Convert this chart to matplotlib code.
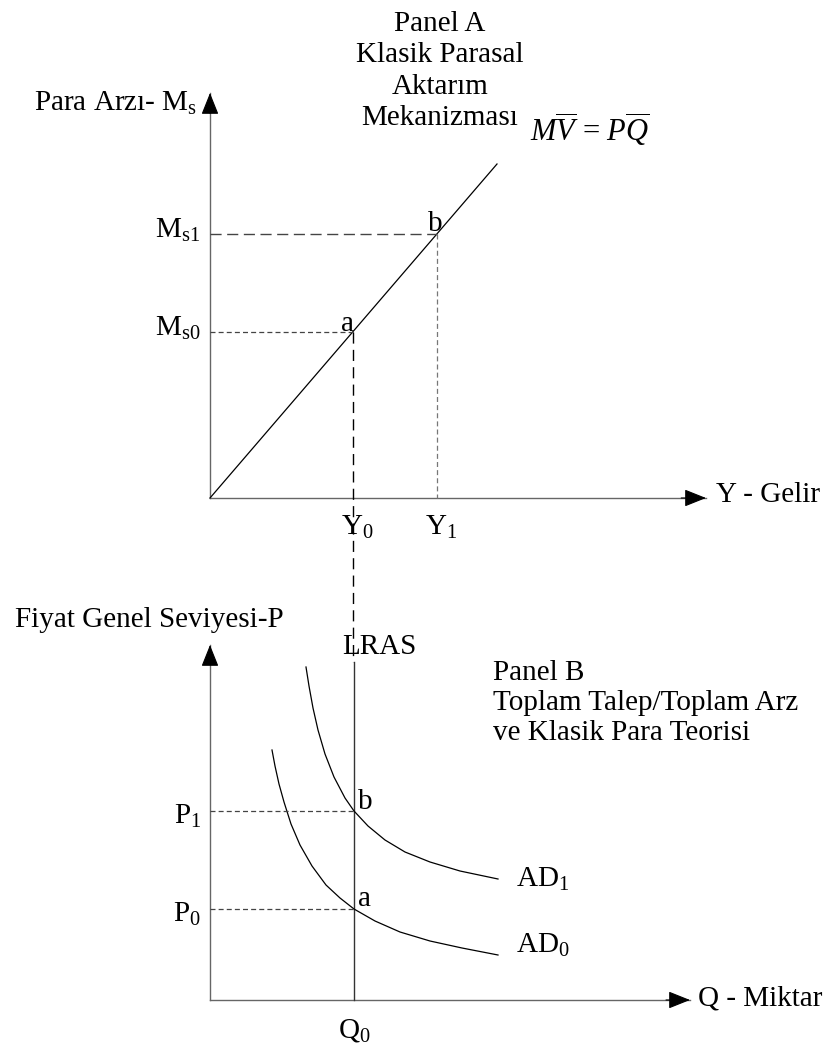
import matplotlib.pyplot as plt

plt.rcParams['font.family'] = ['Liberation Serif', 'DejaVu Serif']
plt.rcParams['mathtext.fontset'] = 'custom'
plt.rcParams['mathtext.rm'] = 'Liberation Serif'
plt.rcParams['mathtext.it'] = 'Liberation Serif:italic'

# === Panel A: para arzı - gelir (resim pikseli cinsinden) ===
origin_a = (210, 498)
y_top_a = 93
x_end_a = 706
income_x = [353, 437]            # Y0, Y1
money_y = [332, 234]             # Ms0, Ms1
income_labels = ["Y$_0$", "Y$_1$"]
money_labels = ["M$_{\\rm s0}$", "M$_{\\rm s1}$"]
mv_x = [210, 497]
mv_y = [498, 164]

# === Panel B: fiyat - miktar ===
origin_b = (210, 1000)
y_top_b = 645
x_end_b = 690
lras_x = 354
lras_top = 662
price_y = [909, 811]             # P0, P1
price_labels = ["P$_0$", "P$_1$"]
ad0_x = [272, 275, 279, 284, 291, 300, 312, 326, 340, 354, 375, 400, 430, 462, 498]
ad0_y = [750, 766, 784, 802, 824, 845, 866, 885, 898, 909, 921, 932, 941, 948, 955]
ad1_x = [306, 309, 313, 318, 325, 334, 345, 354, 368, 385, 405, 430, 460, 498]
ad1_y = [667, 686, 708, 730, 754, 777, 798, 811, 826, 840, 852, 862, 871, 879]

FS = 21
AXC = "#666666"
DASHC = "#444444"

fig = plt.figure(figsize=(8.26, 10.64), dpi=100)
ax = fig.add_axes([0, 0, 1, 1])
ax.set_xlim(0, 826)
ax.set_ylim(1064, 0)
ax.axis("off")


def axis_arrow(x0, y0, x1, y1):
    ax.plot([x0, x1], [y0, y1], color=AXC, lw=1.0)
    ax.annotate("", xy=(x1, y1), xytext=(x1 - (x1 - x0) * 0.05, y1 - (y1 - y0) * 0.05),
                arrowprops=dict(arrowstyle="-|>,head_length=0.75,head_width=0.3",
                                color="black", lw=0.8, mutation_scale=18,
                                shrinkA=0, shrinkB=0))


# ---------------- Panel A ----------------
axis_arrow(origin_a[0], origin_a[1], origin_a[0], y_top_a)
axis_arrow(origin_a[0], origin_a[1], x_end_a, origin_a[1])
ax.plot(mv_x, mv_y, color="black", lw=0.9)

# yatay kesikli çizgiler
ax.plot([origin_a[0], income_x[1]], [money_y[1], money_y[1]], color=DASHC, lw=1.0,
        dashes=(8, 4))
ax.plot([origin_a[0], income_x[0]], [money_y[0], money_y[0]], color=DASHC, lw=0.9,
        dashes=(4, 2.5))
# dikey kesikli çizgiler
ax.plot([income_x[1], income_x[1]], [money_y[1], origin_a[1]], color="#777777", lw=0.9,
        dashes=(4, 2.5))
ax.plot([income_x[0], income_x[0]], [money_y[0], lras_top], color="black", lw=1.0,
        dashes=(8, 4.5))

for yv, lab in zip(money_y, money_labels):
    ax.text(200, yv - 4, lab, fontsize=FS, ha="right", va="center")
for xv, lab in zip(income_x, income_labels):
    ax.text(xv + 4, 527, lab, fontsize=FS, ha="center", va="center")

ax.text(income_x[0] - 6, money_y[0] - 8, "a", fontsize=FS, ha="center", va="center")
ax.text(income_x[1] - 2, money_y[1] - 10, "b", fontsize=FS, ha="center", va="center")

ax.text(197, 103, "Para Arzı- M$_{\\rm s}$", fontsize=FS, ha="right", va="center")
ax.text(716, 495, "Y - Gelir", fontsize=FS, ha="left", va="center")
ax.text(440, 71, "Panel A\nKlasik Parasal\nAktarım\nMekanizması", fontsize=FS,
        ha="center", va="center", linespacing=1.28)
ax.text(530, 130, r"$M\overline{V}$ = $P\overline{Q}$", fontsize=FS + 1, ha="left",
        va="center")

# ---------------- Panel B ----------------
axis_arrow(origin_b[0], origin_b[1], origin_b[0], y_top_b)
axis_arrow(origin_b[0], origin_b[1], x_end_b, origin_b[1])
ax.plot([lras_x, lras_x], [lras_top, origin_b[1]], color="#333333", lw=1.0)

ax.plot(ad0_x, ad0_y, color="black", lw=0.9)
ax.plot(ad1_x, ad1_y, color="black", lw=0.9)

for yv, lab in zip(price_y, price_labels):
    ax.plot([origin_b[0], lras_x], [yv, yv], color=DASHC, lw=0.9, dashes=(4, 2.5))
    ax.text(201, yv + 5, lab, fontsize=FS, ha="right", va="center")

ax.text(lras_x + 4, price_y[1] - 9, "b", fontsize=FS, ha="left", va="center")
ax.text(lras_x + 4, price_y[0] - 10, "a", fontsize=FS, ha="left", va="center")
ax.text(342, 647, "LRAS", fontsize=FS, ha="left", va="center")
ax.text(516, ad1_y[-1], "AD$_1$", fontsize=FS, ha="left", va="center")
ax.text(516, ad0_y[-1] - 10, "AD$_0$", fontsize=FS, ha="left", va="center")
ax.text(lras_x, 1030, "Q$_0$", fontsize=FS, ha="center", va="center")

ax.text(15, 620, "Fiyat Genel Seviyesi-P", fontsize=FS, ha="left", va="center")
ax.text(493, 703, "Panel B\nToplam Talep/Toplam Arz\nve Klasik Para Teorisi",
        fontsize=FS, ha="left", va="center", linespacing=1.2)
ax.text(698, 998, "Q - Miktar", fontsize=FS, ha="left", va="center")

fig.savefig("out.png", dpi=100)
